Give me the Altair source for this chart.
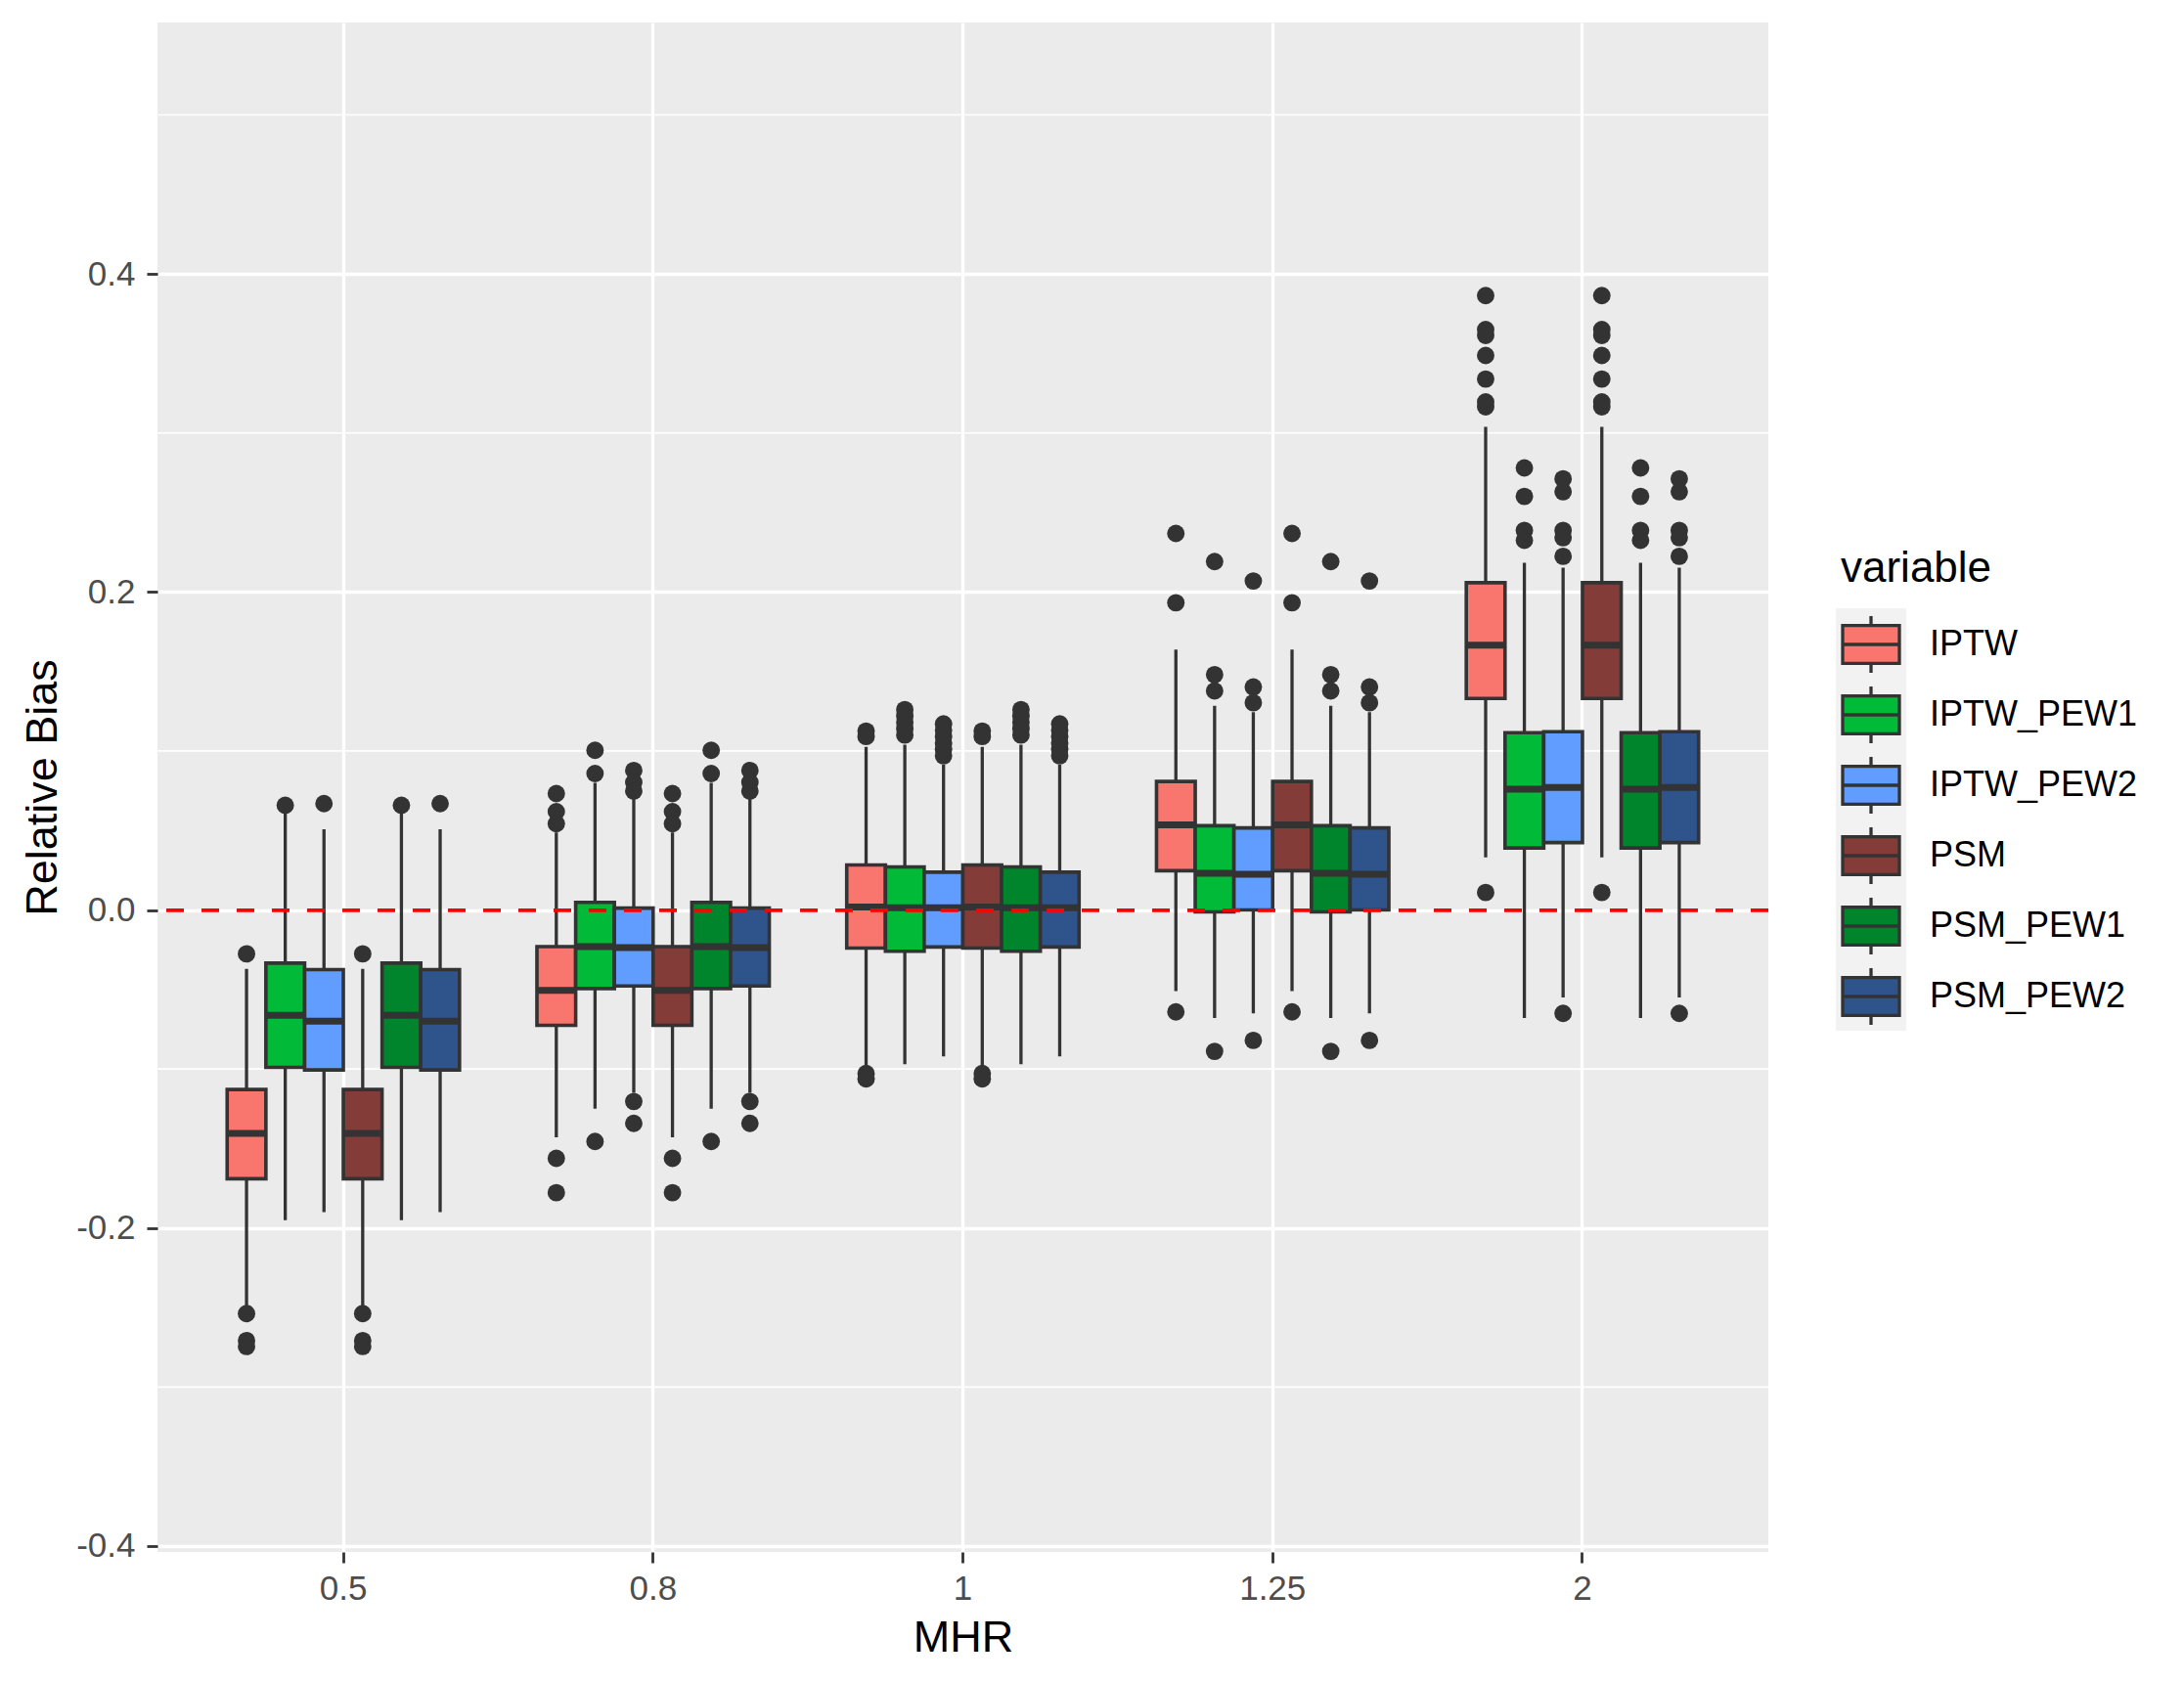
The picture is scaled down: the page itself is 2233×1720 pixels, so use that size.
import altair as alt
import pandas as pd

FONT = "Liberation Sans"

mhr_levels = ["0.5", "0.8", "1", "1.25", "2"]
methods = ["IPTW", "IPTW_PEW1", "IPTW_PEW2", "PSM", "PSM_PEW1", "PSM_PEW2"]
colors = ["#F8766D", "#00BA38", "#619CFF", "#843C39", "#00842C", "#2F548C"]

# box statistics per method, one value per MHR level (0.5, 0.8, 1, 1.25, 2)
whisker_low = {
    "IPTW":      [-0.250, -0.143, -0.098, -0.051, 0.033],
    "IPTW_PEW1": [-0.195, -0.125, -0.097, -0.068, -0.068],
    "IPTW_PEW2": [-0.190, -0.115, -0.092, -0.065, -0.055],
    "PSM":       [-0.250, -0.143, -0.098, -0.051, 0.033],
    "PSM_PEW1":  [-0.195, -0.125, -0.097, -0.068, -0.068],
    "PSM_PEW2":  [-0.190, -0.115, -0.092, -0.065, -0.055],
}
q1 = {
    "IPTW":      [-0.169, -0.0725, -0.024, 0.0247, 0.133],
    "IPTW_PEW1": [-0.099, -0.0494, -0.026, -0.0012, 0.039],
    "IPTW_PEW2": [-0.1006, -0.0478, -0.0233, 0.000, 0.0424],
    "PSM":       [-0.169, -0.0725, -0.024, 0.0247, 0.133],
    "PSM_PEW1":  [-0.099, -0.0494, -0.026, -0.0012, 0.039],
    "PSM_PEW2":  [-0.1006, -0.0478, -0.0233, 0.000, 0.0424],
}
median = {
    "IPTW":      [-0.1405, -0.0506, 0.0019, 0.0535, 0.1665],
    "IPTW_PEW1": [-0.0662, -0.023, 0.0014, 0.0231, 0.076],
    "IPTW_PEW2": [-0.070, -0.0237, 0.0014, 0.0224, 0.077],
    "PSM":       [-0.1405, -0.0506, 0.0019, 0.0535, 0.1665],
    "PSM_PEW1":  [-0.0662, -0.023, 0.0014, 0.0231, 0.076],
    "PSM_PEW2":  [-0.070, -0.0237, 0.0014, 0.0224, 0.077],
}
q3 = {
    "IPTW":      [-0.1129, -0.023, 0.0283, 0.0808, 0.2058],
    "IPTW_PEW1": [-0.0334, 0.0048, 0.0271, 0.053, 0.1115],
    "IPTW_PEW2": [-0.0375, 0.0012, 0.0238, 0.0516, 0.1121],
    "PSM":       [-0.1129, -0.023, 0.0283, 0.0808, 0.2058],
    "PSM_PEW1":  [-0.0334, 0.0048, 0.0271, 0.053, 0.1115],
    "PSM_PEW2":  [-0.0375, 0.0012, 0.0238, 0.0516, 0.1121],
}
whisker_high = {
    "IPTW":      [-0.037, 0.0488, 0.1025, 0.1637, 0.3038],
    "IPTW_PEW1": [0.062, 0.080, 0.104, 0.1284, 0.2184],
    "IPTW_PEW2": [0.0507, 0.070, 0.0914, 0.1244, 0.2152],
    "PSM":       [-0.037, 0.0488, 0.1025, 0.1637, 0.3038],
    "PSM_PEW1":  [0.062, 0.080, 0.104, 0.1284, 0.2184],
    "PSM_PEW2":  [0.0507, 0.070, 0.0914, 0.1244, 0.2152],
}
outliers = {
    "IPTW": [
        [-0.0276, -0.2538, -0.2708, -0.2745],
        [0.0732, 0.0618, 0.0543, -0.1562, -0.1778],
        [0.1091, 0.1125, -0.1028, -0.1062],
        [0.2368, 0.1932, -0.0641],
        [0.3864, 0.365, 0.3613, 0.3487, 0.3339, 0.3195, 0.3164, 0.011],
    ],
    "IPTW_PEW1": [
        [0.0658],
        [0.1004, 0.0858, -0.1456],
        [0.110, 0.114, 0.118, 0.122, 0.126],
        [0.2191, 0.148, 0.1378, -0.0889],
        [0.278, 0.2601, 0.2387, 0.2325],
    ],
    "IPTW_PEW2": [
        [0.0669],
        [0.0877, 0.0802, 0.0748, -0.1204, -0.1342],
        [0.097, 0.101, 0.105, 0.109, 0.113, 0.117],
        [0.2069, 0.1402, 0.1303, -0.082],
        [0.2711, 0.263, 0.2387, 0.2341, 0.2224, -0.065],
    ],
    "PSM": [
        [-0.0276, -0.2538, -0.2708, -0.2745],
        [0.0732, 0.0618, 0.0543, -0.1562, -0.1778],
        [0.1091, 0.1125, -0.1028, -0.1062],
        [0.2368, 0.1932, -0.0641],
        [0.3864, 0.365, 0.3613, 0.3487, 0.3339, 0.3195, 0.3164, 0.011],
    ],
    "PSM_PEW1": [
        [0.0658],
        [0.1004, 0.0858, -0.1456],
        [0.110, 0.114, 0.118, 0.122, 0.126],
        [0.2191, 0.148, 0.1378, -0.0889],
        [0.278, 0.2601, 0.2387, 0.2325],
    ],
    "PSM_PEW2": [
        [0.0669],
        [0.0877, 0.0802, 0.0748, -0.1204, -0.1342],
        [0.097, 0.101, 0.105, 0.109, 0.113, 0.117],
        [0.2069, 0.1402, 0.1303, -0.082],
        [0.2711, 0.263, 0.2387, 0.2341, 0.2224, -0.065],
    ],
}

y_major_ticks = [-0.4, -0.2, 0.0, 0.2, 0.4]
y_minor_grid = [-0.3, -0.1, 0.1, 0.3, 0.5]
y_domain = [-0.4037, 0.5581]
legend_key_ids = ["k1", "k2", "k3", "k4", "k5", "k6"]   # grey legend-key backgrounds

# ---- tables built from the arrays ----
box_rows = []
out_rows = []
for m in methods:
    for i, lv in enumerate(mhr_levels):
        box_rows.append(dict(mhr=lv, method=m, lw=whisker_low[m][i], q1=q1[m][i],
                             med=median[m][i], q3=q3[m][i], uw=whisker_high[m][i]))
        for v in outliers[m][i]:
            out_rows.append(dict(mhr=lv, method=m, val=v))
box_df = pd.DataFrame(box_rows)
out_df = pd.DataFrame(out_rows)
minor_df = pd.DataFrame({"g": y_minor_grid})
keys_df = pd.DataFrame({"key": legend_key_ids})

PW, PH = 1647, 1564

yscale = alt.Scale(domain=y_domain, nice=False, zero=False)
yax = alt.Axis(
    title="Relative Bias", values=y_major_ticks,
    labelExpr="datum.value < 0 ? '-' + format(-datum.value, '.1f') : format(datum.value, '.1f')",
    labelFontSize=35, labelFont=FONT, labelColor="#4D4D4D", labelPadding=12,
    tickColor="#333333", tickWidth=2.8, tickSize=11, domain=False,
    grid=True, gridColor="white", gridWidth=3.3,
    titleFontSize=45, titleFont=FONT, titleColor="black", titleFontWeight="normal",
    titleX=-104, titleY=PH / 2, titleBaseline="alphabetic", titleAlign="center", titleAngle=270,
)
xax = alt.Axis(
    title="MHR", labelFontSize=35, labelFont=FONT, labelColor="#4D4D4D", labelAngle=0,
    labelBaseline="alphabetic", labelPadding=37,
    tickColor="#333333", tickWidth=2.8, tickSize=11, domain=False, bandPosition=0.5,
    grid=True, gridColor="white", gridWidth=3.3,
    titleFontSize=45, titleFont=FONT, titleColor="black", titleFontWeight="normal",
    titleX=PW / 2, titleY=101, titleBaseline="alphabetic", titleAlign="center",
)
xenc = alt.X("mhr:N", sort=mhr_levels,
             scale=alt.Scale(domain=mhr_levels, paddingInner=0.25, paddingOuter=0.225),
             axis=xax)
xoff = alt.XOffset("method:N", sort=methods,
                   scale=alt.Scale(domain=methods, paddingInner=0, paddingOuter=0))

# grey backgrounds behind the legend keys (ggplot style)
keybg = alt.Chart(keys_df).mark_point(filled=True, size=0, color="#F2F2F2", opacity=1).encode(
    opacity=alt.Opacity("key:N", scale=alt.Scale(domain=legend_key_ids, range=[1, 1, 1, 1, 1, 1]),
                        legend=alt.Legend(
                            title=None, orient="none", legendX=1716, legendY=599, padding=0,
                            labelExpr="''", labelFontSize=1, labelOffset=0,
                            symbolType="square", symbolSize=5184, symbolFillColor="#F2F2F2",
                            symbolStrokeWidth=0, rowPadding=0, zindex=0,
                        ))
)

minor = alt.Chart(minor_df).mark_rule(color="white", strokeWidth=1.6).encode(
    y=alt.Y("g:Q", scale=yscale, axis=yax)
)

pts = alt.Chart(out_df).mark_circle(size=320, color="#333333", opacity=1).encode(
    x=xenc, xOffset=xoff, y=alt.Y("val:Q", scale=yscale, axis=yax)
)

base = alt.Chart(box_df)
whisk = base.mark_rule(color="#333333", strokeWidth=3.3).encode(
    x=xenc, xOffset=xoff, y=alt.Y("lw:Q", scale=yscale, axis=yax), y2="uw:Q"
)

symbol_path = "M-1,-0.67L1,-0.67L1,0.67L-1,0.67Z M-1,0L1,0 M0,-0.67L0,-1 M0,0.67L0,1"
boxes = base.mark_bar(stroke="#333333", strokeWidth=3.6, opacity=1).encode(
    x=xenc, xOffset=xoff,
    y=alt.Y("q1:Q", scale=yscale, axis=yax), y2="q3:Q",
    fill=alt.Fill("method:N", sort=methods,
                  scale=alt.Scale(domain=methods, range=colors),
                  legend=alt.Legend(
                      title="variable", orient="none", legendX=1721, legendY=537,
                      padding=0, titleFont=FONT, titleFontSize=44, titleColor="black",
                      titleFontWeight="normal", titlePadding=24,
                      labelFont=FONT, labelFontSize=36, labelColor="black", labelOffset=29,
                      labelLimit=400,
                      symbolType=symbol_path, symbolSize=3364, symbolStrokeColor="#333333",
                      symbolStrokeWidth=3.3, symbolOpacity=1, rowPadding=0, zindex=1,
                  )),
)

meds = base.mark_tick(orient="horizontal", thickness=7, size=39.6,
                      color="#333333", opacity=1).encode(
    x=xenc, xOffset=xoff, y=alt.Y("med:Q", scale=yscale, axis=yax)
)

zero = alt.Chart(minor_df).mark_rule(color="#FF0000", strokeWidth=3.2,
                                     strokeDash=[18, 18]).encode(y=alt.datum(0))

chart = alt.layer(keybg, minor, pts, whisk, boxes, meds, zero).properties(
    width=PW, height=PH,
    padding={"left": 153, "top": 15, "right": 410, "bottom": 110},
    autosize=alt.AutoSizeParams(type="none"),
    background="white",
).configure_view(stroke=None, fill="#EBEBEB")

chart.save("out.html", embed_options={"renderer": "svg", "actions": False})
